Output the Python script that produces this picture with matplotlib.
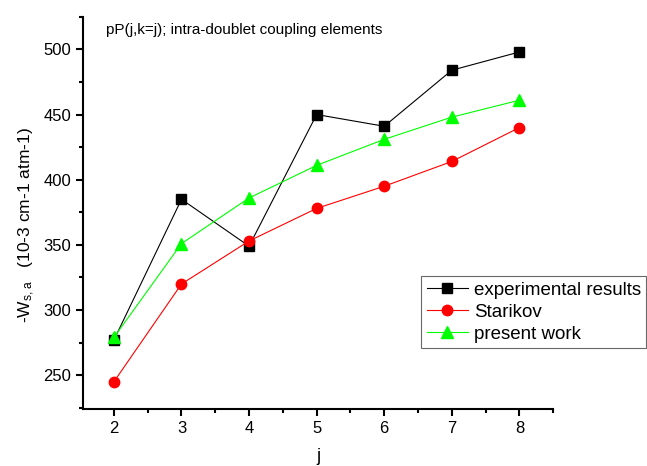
import matplotlib
matplotlib.use("Agg")
import matplotlib.pyplot as plt
from matplotlib.ticker import MultipleLocator

plt.rcParams["font.family"] = ["Liberation Sans", "DejaVu Sans"]
plt.rcParams["mathtext.default"] = "regular"

# data
j = [2, 3, 4, 5, 6, 7, 8]
experimental = [277, 385, 349, 450, 441, 484, 498]
starikov = [245, 320, 353, 378, 395, 414, 440]
present_work = [279, 351, 386, 411, 431, 448, 461]

fig = plt.figure(figsize=(6.47, 4.66), dpi=100)
ax = fig.add_axes([0.128, 0.122, 0.727, 0.842])

ax.plot(j, experimental, color="black", lw=0.8, marker="s", ms=6.5,
        label="experimental results")
ax.plot(j, starikov, color="#ff0000", lw=0.8, marker="o", ms=7.5,
        label="Starikov")
ax.plot(j, present_work, color="#00ff00", lw=0.8, marker="^", ms=8,
        label="present work")

ax.set_xlim(1.54, 8.5)
ax.set_ylim(224, 525)
ax.xaxis.set_major_locator(MultipleLocator(1))
ax.xaxis.set_minor_locator(MultipleLocator(0.5))
ax.yaxis.set_major_locator(MultipleLocator(50))
ax.yaxis.set_minor_locator(MultipleLocator(25))
ax.tick_params(which="major", length=5, width=1.5, labelsize=12, direction="out")
ax.tick_params(which="minor", length=3, width=1.5, direction="out")

for s in ["top", "right"]:
    ax.spines[s].set_visible(False)
for s in ["left", "bottom"]:
    ax.spines[s].set_linewidth(1.5)

ax.set_xlabel("j", fontsize=13, labelpad=9)
ax.set_ylabel(r"-W$_{s,a}$   (10-3 cm-1 atm-1)", fontsize=12.5)
ax.yaxis.set_label_coords(-0.098, 0.47)

ax.text(0.05, 0.985, "pP(j,k=j); intra-doublet coupling elements",
        transform=ax.transAxes, fontsize=11, va="top", ha="left")

leg = fig.legend(loc="upper left", bbox_to_anchor=(0.651, 0.408),
                 fontsize=13.5, frameon=True, fancybox=False,
                 borderpad=0.3, labelspacing=0.26, handlelength=2.2,
                 handletextpad=0.3, borderaxespad=0)
leg.get_frame().set_edgecolor("#444444")
leg.get_frame().set_linewidth(0.8)

fig.savefig("out.png", dpi=100)
